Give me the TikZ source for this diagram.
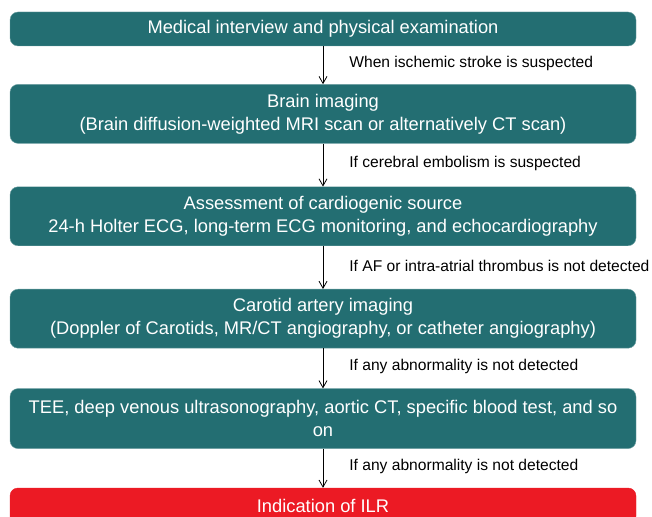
\documentclass[tikz,border=0pt]{standalone}
\usepackage{fontspec}
\setmainfont{Liberation Sans}
\usepackage{xcolor}
\usepackage{tikz}
\usetikzlibrary{positioning, arrows.meta}

\definecolor{stageteal}{RGB}{35,110,114}
\definecolor{stagered}{RGB}{236,26,36}

\begin{document}
\begin{tikzpicture}[x=1pt, y=1pt, node distance=40pt,
        >={Straight Barb[length=7pt,width=8pt]},
        stage/.style={rectangle, rounded corners=8pt, fill=stageteal, draw=stageteal!65!white,
            text=white, minimum width=626pt, minimum height=59pt, align=center, inner sep=2pt,
            font=\fontsize{18.3}{23}\selectfont},
        cond/.style={right=26pt, inner sep=0pt, yshift=2pt, font=\fontsize{15.6}{18}\selectfont}]
        \clip (0,0) rectangle (652,516);
        \useasboundingbox (0,0) rectangle (652,516);

        \node[stage, minimum height=34pt] (exam) at (323,487) {Medical interview and physical examination};
        \node[stage] (brain) [below=38pt of exam] {Brain imaging\\(Brain diffusion-weighted MRI scan or alternatively CT scan)};
        \node[stage] (cardio) [below=43pt of brain] {Assessment of cardiogenic source\\24-h Holter ECG, long-term ECG monitoring, and echocardiography};
        \node[stage] (carotid) [below=43pt of cardio] {Carotid artery imaging\\(Doppler of Carotids, MR/CT angiography, or catheter angiography)};
        \node[stage, minimum height=60pt] (tee) [below=40pt of carotid] {TEE, deep venous ultrasonography, aortic CT, specific blood test, and so\\on};
        \node[stage, minimum height=36pt, fill=stagered, draw=stagered] (ilr) [below=39pt of tee] {Indication of ILR};

        \path[->, line width=0.8pt]
        (exam) edge node[cond] {When ischemic stroke is suspected} (brain)
        (brain) edge node[cond] {If cerebral embolism is suspected} (cardio)
        (cardio) edge node[cond] {If AF or intra-atrial thrombus is not detected} (carotid)
        (carotid) edge node[cond] {If any abnormality is not detected} (tee)
        (tee) edge node[cond] {If any abnormality is not detected} (ilr);
\end{tikzpicture}
\end{document}
